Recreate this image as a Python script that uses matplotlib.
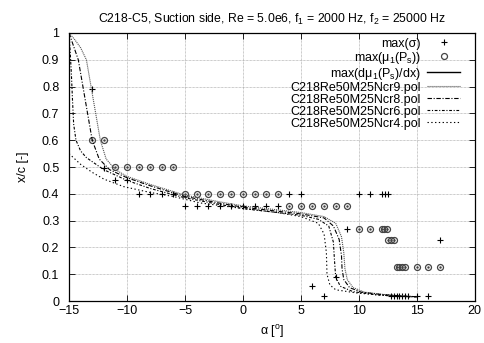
import numpy as np
import matplotlib
matplotlib.use("Agg")
import matplotlib.pyplot as plt

plt.rcParams['font.family'] = ['Liberation Sans', 'DejaVu Sans']
plt.rcParams['mathtext.default'] = 'regular'
plt.rcParams['font.size'] = 9

# max(sigma) points
alpha_sig = [-13, -12, -11, -10, -9, -8, -7, -6, -5, -4, -3, -2, -1, 0, 1, 2, 3,
             4, 5, 6, 7, 8, 9, 10, 11, 12, 12.25, 12.5,
             12.75, 13, 13.25, 13.5, 13.75, 14, 14.25, 15, 16, 17]
xc_sig = [0.79, 0.495, 0.45, 0.45, 0.40, 0.40, 0.40, 0.40, 0.355, 0.355, 0.355, 0.355, 0.355, 0.355, 0.355, 0.355, 0.355,
          0.40, 0.40, 0.056, 0.018, 0.09, 0.267, 0.40, 0.40, 0.40, 0.40, 0.40,
          0.018, 0.018, 0.018, 0.018, 0.018, 0.018, 0.018, 0.018, 0.018, 0.228]

# max(mu1(Ps)) points
alpha_mu = [-13, -12, -11, -10, -9, -8, -7, -6, -5, -4, -3, -2, -1, 0, 1, 2, 3,
            4, 5, 6, 7, 8, 9, 10, 11, 12, 12.2, 12.4, 12.5, 12.75, 13,
            13.25, 13.5, 13.75, 14, 15, 16, 17]
xc_mu = [0.60, 0.60, 0.50, 0.50, 0.50, 0.50, 0.50, 0.50, 0.40, 0.40, 0.40, 0.40, 0.40, 0.40, 0.40, 0.40, 0.40,
         0.355, 0.355, 0.355, 0.355, 0.355, 0.355, 0.267, 0.267, 0.267, 0.267, 0.267, 0.228, 0.228, 0.228,
         0.128, 0.128, 0.128, 0.128, 0.128, 0.128, 0.128]

# transition curves (XFOIL polars)
alpha_n9 = [-15, -14.5, -14, -13.5, -13.1, -12.7, -12.3, -11.8, -11, -10, -8, -5, -2, 0, 3, 5, 7, 8, 8.5, 8.7, 8.8, 9.0, 9.5, 10.5, 12, 14, 15]
xc_n9 = [1.0, 0.975, 0.945, 0.9, 0.8, 0.7, 0.6, 0.53, 0.49, 0.465, 0.435, 0.395, 0.37, 0.355, 0.34, 0.33, 0.315, 0.29, 0.24, 0.18, 0.12, 0.08, 0.05, 0.033, 0.025, 0.018, 0.016]

alpha_n8 = [-15, -14.6, -14.2, -13.8, -13.4, -13.0, -12.4, -11.5, -10, -8, -5, -2, 0, 3, 5, 7, 7.8, 8.3, 8.5, 8.55, 8.7, 9.2, 10.2, 12, 14, 15]
xc_n8 = [1.0, 0.95, 0.9, 0.8, 0.7, 0.6, 0.53, 0.49, 0.46, 0.43, 0.39, 0.365, 0.35, 0.335, 0.325, 0.31, 0.28, 0.23, 0.17, 0.12, 0.08, 0.05, 0.033, 0.024, 0.018, 0.016]

alpha_n6 = [-15, -14.9, -14.8, -14.7, -14.6, -14.4, -14.0, -13.5, -12, -10, -8, -5, -2, 0, 3, 5, 6.5, 7.4, 7.8, 7.9, 8.0, 8.4, 9.5, 11.5, 14, 15]
xc_n6 = [1.0, 0.93, 0.85, 0.75, 0.66, 0.6, 0.56, 0.535, 0.49, 0.45, 0.42, 0.385, 0.36, 0.345, 0.33, 0.32, 0.305, 0.28, 0.22, 0.15, 0.09, 0.055, 0.035, 0.023, 0.017, 0.015]

alpha_n4 = [-15, -14, -13, -12, -10.3, -8, -6, -3.7, 0, 3, 5, 6.5, 7.0, 7.2, 7.25, 7.5, 8.0, 9.8, 12.4, 14.5]
xc_n4 = [0.55, 0.51, 0.48, 0.455, 0.427, 0.405, 0.39, 0.366, 0.345, 0.33, 0.315, 0.29, 0.25, 0.18, 0.10, 0.06, 0.042, 0.03, 0.02, 0.015]

fig = plt.figure(figsize=(4.84, 3.43), dpi=100)
ax = fig.add_axes([0.1426, 0.1224, 0.8384, 0.7814])

ax.plot(alpha_sig, xc_sig, '+', color='black', ms=5, mew=0.8, label='max(σ)')
ax.plot(alpha_mu, xc_mu, 'o', color='#444444', mfc='none', ms=4.3, mew=0.9, label='max(μ$_1$(P$_s$))')
ax.plot(alpha_mu, xc_mu, '.', color='#444444', ms=1.5)
ax.plot([], [], '-', color='black', lw=1.0, label='max(dμ$_1$(P$_s$)/dx)')
ax.plot(alpha_n9, xc_n9, color='#555555', lw=0.8, dashes=(1, 0.8), label='C218Re50M25Ncr9.pol')
ax.plot(alpha_n8, xc_n8, color='black', lw=0.8, dashes=(4, 1.5, 1, 1.5), label='C218Re50M25Ncr8.pol')
ax.plot(alpha_n6, xc_n6, color='black', lw=0.8, dashes=(2.5, 1.5, 1, 1.5), label='C218Re50M25Ncr6.pol')
ax.plot(alpha_n4, xc_n4, color='black', lw=0.8, dashes=(1.2, 2.2), label='C218Re50M25Ncr4.pol')

ax.set_xlim(-15, 20)
ax.set_ylim(0, 1)
ax.set_xticks(np.arange(-15, 21, 5))
ax.set_yticks(np.arange(0, 1.01, 0.1))
ax.set_yticklabels(['0', '0.1', '0.2', '0.3', '0.4', '0.5', '0.6', '0.7', '0.8', '0.9', '1'])
ax.tick_params(direction='in', top=True, right=True, length=4, width=0.6)
ax.tick_params(axis='x', pad=3)
ax.tick_params(axis='y', pad=7)
ax.grid(True, color='#999999', linestyle=(0, (1, 1)), lw=0.5)
for s in ax.spines.values():
    s.set_linewidth(0.9)

ax.set_xlabel('α [$^o$]', labelpad=4)
ax.set_ylabel('x/c [-]', labelpad=9)
ax.set_title('C218-C5, Suction side, Re = 5.0e6, f$_1$ = 2000 Hz, f$_2$ = 25000 Hz', fontsize=8.8, pad=7)

leg = ax.legend(loc='upper right', bbox_to_anchor=(0.963, 0.983), markerfirst=False, frameon=False,
                handlelength=2.6, labelspacing=0.0, borderaxespad=0, handletextpad=0.5,
                fontsize=9, borderpad=0)

fig.savefig('out.png', dpi=100)
